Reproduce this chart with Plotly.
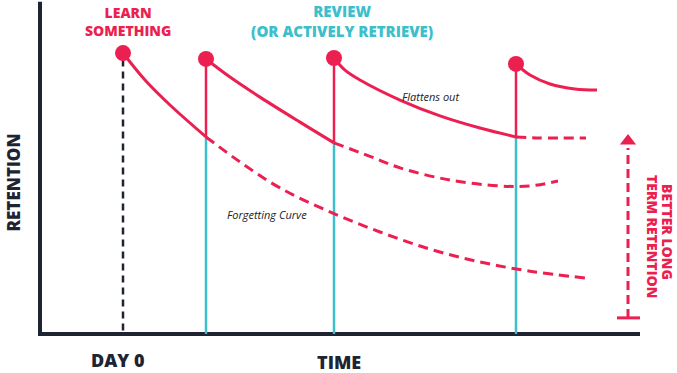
import plotly.graph_objects as go

PINK = "#EC1F51"
TEAL = "#3DBFCB"
DARK = "#1E2432"

# Time points (arbitrary units) of learning and reviews
learn_t = 83
review_t = [166, 294, 476]
learn_r = 85.4
review_r = [83.6, 83.9, 82.1]
cross_r = [59.9, 58.1, 59.9]   # retention where the review line meets previous curve

# Curves (time, retention)
c1_solid_t = [83, 105, 130, 166]
c1_solid_r = [85.4, 77.2, 69.6, 59.9]
c1_dash_t = [166, 200, 240, 290, 340, 390, 440, 490, 546]
c1_dash_r = [59.9, 52.3, 44.4, 37.1, 31.0, 25.8, 21.9, 19.1, 17.0]

c2_solid_t = [166, 190, 220, 260, 294]
c2_solid_r = [83.6, 78.1, 72.0, 64.4, 58.1]
c2_dash_t = [294, 330, 360, 410, 460, 490, 518]
c2_dash_r = [58.1, 54.0, 50.5, 46.8, 45.0, 45.0, 46.5]

c3_solid_t = [294, 305, 320, 360, 400, 440, 476]
c3_solid_r = [83.9, 80.2, 77.2, 71.1, 66.3, 62.6, 59.9]
c3_dash_t = [476, 500, 546]
c3_dash_r = [59.9, 59.6, 59.6]

c4_solid_t = [476, 490, 510, 535, 557]
c4_solid_r = [82.1, 78.7, 76.0, 74.5, 74.2]

arrow_t = 588
arrow_r = [4.9, 56.5]
arrow_head_r = 58.7

fig = go.Figure()

def line(x, y, color, width=3, dash=None, shape="spline"):
    fig.add_trace(go.Scatter(x=x, y=y, mode="lines",
                             line=dict(color=color, width=width, dash=dash, shape=shape),
                             hoverinfo="skip"))

# axes
line([0, 0], [101, -0.6], DARK, width=4, shape="linear")
line([0, 600], [0, 0], DARK, width=4, shape="linear")

# day 0 dashed
line([learn_t, learn_t], [learn_r - 2, 0], DARK, width=2.5, dash="7px,5px", shape="linear")

# review verticals
for t, r, c in zip(review_t, review_r, cross_r):
    line([t, t], [c, 0], TEAL, width=2.5, shape="linear")
    line([t, t], [r, c], PINK, width=2.5, shape="linear")

# curves
line(c1_solid_t, c1_solid_r, PINK)
line(c1_dash_t, c1_dash_r, PINK, dash="10px,6px")
line(c2_solid_t, c2_solid_r, PINK)
line(c2_dash_t, c2_dash_r, PINK, dash="10px,6px")
line(c3_solid_t, c3_solid_r, PINK)
line(c3_dash_t, c3_dash_r, PINK, dash="10px,6px")
line(c4_solid_t, c4_solid_r, PINK)

# markers
fig.add_trace(go.Scatter(x=[learn_t] + review_t, y=[learn_r] + review_r, mode="markers",
                         marker=dict(color=PINK, size=16), hoverinfo="skip"))

# arrow
line([arrow_t, arrow_t], arrow_r, PINK, width=3, dash="9px,5px", shape="linear")
line([arrow_t - 11, arrow_t + 12], [arrow_r[0], arrow_r[0]], PINK, width=3, shape="linear")
fig.add_trace(go.Scatter(x=[arrow_t], y=[arrow_head_r], mode="markers",
                         marker=dict(symbol="triangle-up", color=PINK, size=14), hoverinfo="skip"))

BOLD = "Open Sans"

def text(x, y, s, color, size, angle=0, italic=False, weight=800):
    fig.add_annotation(x=x, y=y, text=s, showarrow=False, textangle=angle,
                       font=dict(family=BOLD, size=size, color=color,
                                 weight=(400 if italic else weight),
                                 style=("italic" if italic else "normal")),
                       xanchor="center", yanchor="middle")

text(88, 95.1, "LEARN<br>SOMETHING", PINK, 14)
text(302, 95.1, "REVIEW<br>(OR ACTIVELY RETRIEVE)", TEAL, 15)
text(-27.5, 45.9, "RETENTION", DARK, 17, angle=-90)
text(77, -7.9, "DAY 0", DARK, 18)
text(299, -8.5, "TIME", DARK, 18)
text(628, 31.0, "BETTER LONG", PINK, 14, angle=90)
text(612, 29.8, "TERM RETENTION", PINK, 14, angle=90)
text(227, 36.2, "Forgetting Curve", "#222222", 11, italic=True)
text(390, 72.3, "Flattens out", "#222222", 11, italic=True)

fig.update_layout(width=677, height=373, margin=dict(l=0, r=0, t=0, b=0),
                  paper_bgcolor="white", plot_bgcolor="white", showlegend=False,
                  hovermode=False,
                  xaxis=dict(range=[-40, 637], visible=False, fixedrange=True),
                  yaxis=dict(range=[-11.85, 101.52], visible=False, fixedrange=True))

fig.write_html("out.html", config={"displayModeBar": False},
               post_script="document.body.style.margin='0';document.body.style.overflow='hidden';")
